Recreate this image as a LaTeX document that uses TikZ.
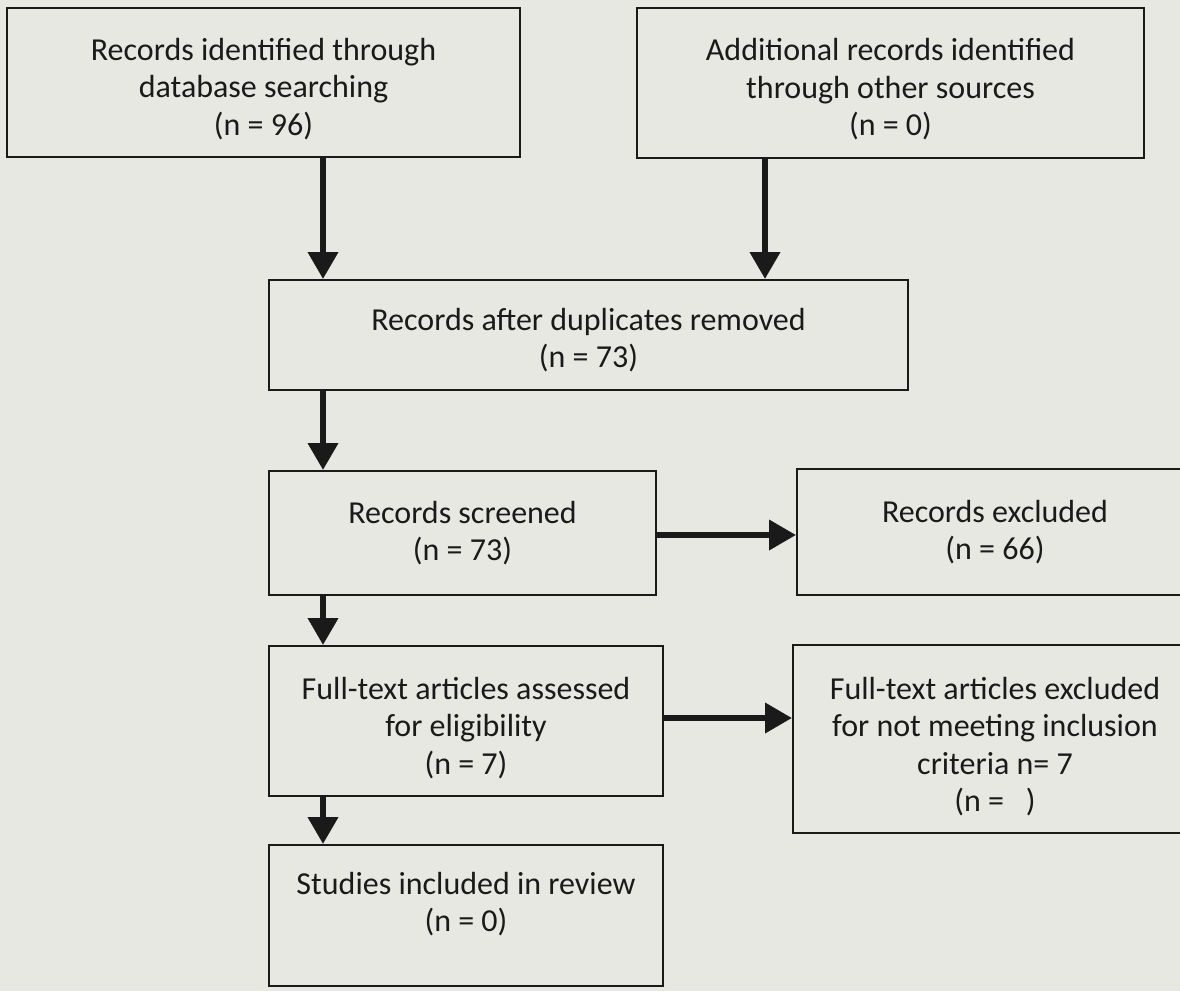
\documentclass[tikz,border=0pt]{standalone}
\usepackage{fontspec}
\setmainfont{Carlito}
\usetikzlibrary{arrows.meta}
\definecolor{paper}{RGB}{232,232,226}
\definecolor{ink}{RGB}{26,26,26}
\newcommand\mystrut[1]{\rule{0pt}{#1}}
\begin{document}
\begin{tikzpicture}[x=1pt,y=-1pt,
  txt/.style={text=ink, align=center, font=\fontsize{32}{37.5}\selectfont},
  box/.style={txt, draw=ink, line width=1.8pt, rectangle, inner sep=0pt},
  arr/.style={draw=ink, line width=6.5pt, -{Triangle[length=27pt,width=29pt]}}]
\fill[paper] (0,0) rectangle (1180,991);
\useasboundingbox (0,0) rectangle (1180,991);
\clip (0,0) rectangle (1180,991);

\coordinate (cl) at (323,0);
\coordinate (cr) at (765,0);
\coordinate (hA) at (0,535);
\coordinate (hB) at (0,718);

\node[box, minimum width=513pt, minimum height=149pt] (b1) at (263.5,82.5)
  {\mystrut{35pt}Records identified through\\database searching\\(n = 96)};
\node[box, minimum width=507pt, minimum height=150pt] (b2) at (890.5,83)
  {\mystrut{35pt}Additional records identified\\through other sources\\(n = 0)};
\node[box, minimum width=639pt, minimum height=110pt] (b3) at (588.5,335)
  {\mystrut{32pt}Records after duplicates removed\\(n = 73)};
\node[box, minimum width=387pt, minimum height=124pt] (b4) at (462.5,533)
  {Records screened\\(n = 73)};
\node[box, minimum width=396pt, minimum height=126pt] (b5) at (995,532)
  {Records excluded\\(n = 66)};
\node[box, minimum width=394pt, minimum height=150pt] (b6) at (466,721)
  {\mystrut{36pt}Full-text articles assessed\\for eligibility\\(n = 7)};
\node[box, minimum width=404pt, minimum height=188pt] (b7) at (995,739)
  {\mystrut{37pt}Full-text articles excluded\\for not meeting inclusion\\criteria n= 7\\(n = \ \ )};
\node[box, minimum width=394pt, minimum height=141pt] (b8) at (466,915.5) {};
\node[txt] (b8t) at (466,904) {Studies included in review\\(n = 0)};

\draw[arr] (b1.south -| cl) -- (b3.north -| cl);
\draw[arr] (b2.south -| cr) -- (b3.north -| cr);
\draw[arr] (b3.south -| cl) -- (b4.north -| cl);
\draw[arr] (b4.east |- hA) -- (b5.west |- hA);
\draw[arr] (b4.south -| cl) -- (b6.north -| cl);
\draw[arr] (b6.east |- hB) -- (b7.west |- hB);
\draw[arr] (b6.south -| cl) -- (b8.north -| cl);
\end{tikzpicture}
\end{document}
